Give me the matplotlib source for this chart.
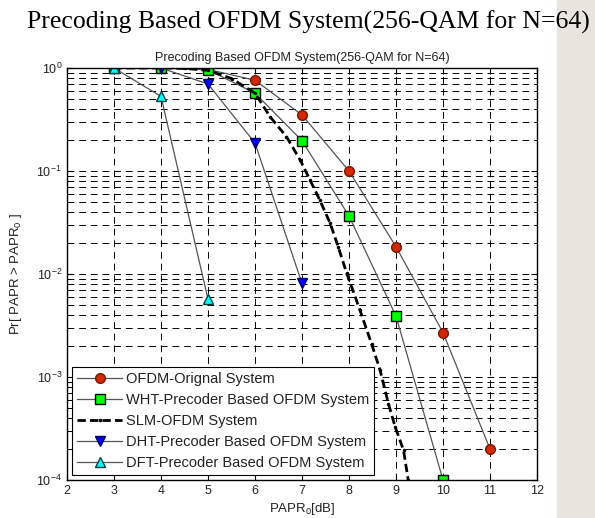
import numpy as np
import matplotlib
matplotlib.use('Agg')
import matplotlib.pyplot as plt
from matplotlib.patches import Rectangle

plt.rcParams['font.family'] = ['Liberation Sans', 'DejaVu Sans']
plt.rcParams['mathtext.default'] = 'regular'

# PAPR0 [dB] and CCDF values
x_ofdm = [3, 4, 5, 6, 7, 8, 9, 10, 11]
y_ofdm = [1.0, 1.0, 0.97, 0.76, 0.35, 0.1, 0.0184, 0.0027, 2.0e-4]

x_wht = [3, 4, 5, 6, 7, 8, 9, 10]
y_wht = [1.0, 1.0, 0.96, 0.57, 0.197, 0.0366, 0.0039, 1.0e-4]

x_slm = [3, 4, 4.5, 5, 5.5, 6, 6.32, 6.67, 6.96, 7.17, 7.38, 7.6, 7.77,
         7.95, 8.23, 8.48, 8.66, 8.84, 8.98, 9.16, 9.26]
y_slm = [1.0, 1.0, 0.99, 0.95, 0.79, 0.57, 0.337, 0.215, 0.128, 0.082, 0.052,
         0.031, 0.0184, 0.0102, 0.0045, 0.0021, 0.00117, 5.5e-4, 3.3e-4,
         1.95e-4, 1.0e-4]

x_dht = [3, 4, 5, 6, 7]
y_dht = [1.0, 1.0, 0.70, 0.187, 0.0081]

x_dft = [3, 4, 5]
y_dft = [1.0, 0.53, 0.0057]

labels = ['OFDM-Orignal System', 'WHT-Precoder Based OFDM System',
          'SLM-OFDM System', 'DHT-Precoder Based OFDM System',
          'DFT-Precoder Based OFDM System']
x_ticks = list(range(2, 13))


def main():
    fig = plt.figure(figsize=(5.95, 5.18), dpi=100, facecolor='white')
    # slide background strip on the right
    fig.patches.append(Rectangle((557 / 595, 0), 1, 1, transform=fig.transFigure,
                                 color='#e9e4de', zorder=-10))
    fig.text(0.518, 0.956, 'Precoding Based OFDM System(256-QAM for N=64)',
             family='Liberation Serif', fontsize=18.5, ha='center', va='center',
             color='black')

    ax = fig.add_axes([67 / 595, 38 / 518, 470 / 595, 412 / 518])
    line_c = '#555555'
    ax.plot(x_ofdm, y_ofdm, '-o', color=line_c, lw=0.9, mfc='#d02800',
            mec='#7a1500', ms=7, label=labels[0])
    ax.plot(x_wht, y_wht, '-s', color=line_c, lw=0.9, mfc='#00ff00',
            mec='black', ms=7, label=labels[1])
    ax.plot(x_slm, y_slm, '--', color='black', lw=2, marker='.', ms=3,
            dashes=(3, 1.5), label=labels[2])
    ax.plot(x_dht, y_dht, '-v', color=line_c, lw=0.9, mfc='#0000ff',
            mec='#000060', ms=7, label=labels[3])
    ax.plot(x_dft, y_dft, '-^', color=line_c, lw=0.9, mfc='#00ffff',
            mec='#004040', ms=7, label=labels[4])

    ax.set_yscale('log')
    ax.set_xlim(2, 12)
    ax.set_ylim(1e-4, 1)
    ax.set_xticks(x_ticks)
    ax.grid(True, which='both', axis='y', color='black', lw=0.7,
            linestyle=(0, (7, 5)))
    ax.grid(True, which='major', axis='x', color='black', lw=0.7,
            linestyle=(0, (7, 5)))
    ax.tick_params(which='both', direction='in', top=True, right=True,
                   labelsize=9, labelcolor='#222222')
    ax.tick_params(which='major', length=4)
    ax.tick_params(which='minor', length=2)
    ax.minorticks_on()
    ax.xaxis.set_minor_locator(plt.NullLocator())
    for s in ax.spines.values():
        s.set_linewidth(1.0)

    ax.set_title('Precoding Based OFDM System(256-QAM for N=64)', fontsize=9,
                 color='#222222', pad=5)
    ax.set_xlabel('PAPR$_0$[dB]', fontsize=9.5, color='#222222', labelpad=3)
    ax.set_ylabel('Pr[ PAPR > PAPR$_0$ ]', fontsize=9.5, color='#222222',
                  labelpad=9)

    leg = ax.legend(loc='lower left', fontsize=10.5, handlelength=3.1,
                    handletextpad=0.25, labelspacing=0.48, borderaxespad=0.35,
                    fancybox=False, framealpha=1, edgecolor='black',
                    borderpad=0.35)
    leg.get_frame().set_linewidth(0.8)
    for t in leg.get_texts():
        t.set_color('#222222')

    fig.savefig('out.png', dpi=100, facecolor=fig.get_facecolor())


if __name__ == "__main__":
    main()
